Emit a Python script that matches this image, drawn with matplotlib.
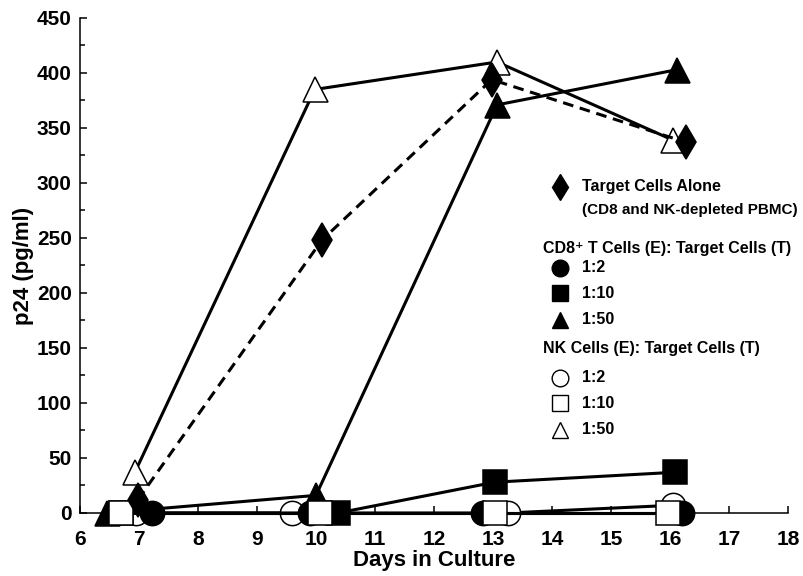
import numpy as np
import matplotlib
matplotlib.use("Agg")
import matplotlib.pyplot as plt

plt.rcParams['font.family'] = ['Liberation Sans', 'DejaVu Sans']
plt.rcParams['font.weight'] = 'bold'

# data (points are shifted a bit sideways in the original)
target_days = [6.98, 10.1, 12.98, 16.27]
target_p24 = [12, 248, 394, 337]

cd8_1_2_days = [7.22, 9.9, 12.83, 16.2]
cd8_1_2_p24 = [0, 0, 0, 0]
cd8_1_10_days = [6.7, 10.37, 13.03, 16.08]
cd8_1_10_p24 = [0, 0, 28, 37]
cd8_1_50_days = [6.45, 10.0, 13.07, 16.12]
cd8_1_50_p24 = [0, 16, 371, 403]

nk_1_2_days = [6.95, 9.6, 13.25, 16.05]
nk_1_2_p24 = [0, 0, 0, 7]
nk_1_10_days = [6.7, 10.07, 13.03, 15.97]
nk_1_10_p24 = [0, 0, 0, 0]
nk_1_50_days = [6.93, 9.98, 13.07, 16.05]
nk_1_50_p24 = [37, 385, 410, 339]

x_ticks = list(range(6, 19))
y_ticks = list(range(0, 451, 50))

fig = plt.figure(figsize=(8.04, 5.76), dpi=100)
ax = fig.add_axes([0.0995, 0.1094, 0.8805, 0.8594])

lw = 2.2
mew = 1.1
ms = 17.5

def series(days, vals, marker, filled, z, ls='-', size=ms):
    ax.plot(days, vals, ls=ls, lw=lw, color='black', marker=marker,
            markersize=size, markerfacecolor='black' if filled else 'white',
            markeredgecolor='black', markeredgewidth=mew, zorder=z,
            clip_on=False, dashes=(3.5, 2.2) if ls == '--' else (None, None))

series(nk_1_2_days, nk_1_2_p24, 'o', False, 3)
series(cd8_1_2_days, cd8_1_2_p24, 'o', True, 4)
series(cd8_1_10_days, cd8_1_10_p24, 's', True, 4.5)
series(cd8_1_50_days, cd8_1_50_p24, '^', True, 5, size=18)
series(nk_1_10_days, nk_1_10_p24, 's', False, 6)
series(nk_1_50_days, nk_1_50_p24, '^', False, 7, size=18)
series(target_days, target_p24, 'd', True, 8, ls='--', size=17)

ax.set_xlim(6, 18)
ax.set_ylim(0, 450)
ax.set_xticks(x_ticks)
ax.set_yticks(y_ticks)
ax.set_yticks(np.arange(25, 450, 50), minor=True)
ax.tick_params(direction='in', length=5, width=1.1, labelsize=15)
ax.tick_params(axis='x', pad=12)
ax.tick_params(axis='y', pad=6)
ax.tick_params(which='minor', direction='in', length=3.5, width=1.1)
for s in ['top', 'right']:
    ax.spines[s].set_visible(False)
for s in ['left', 'bottom']:
    ax.spines[s].set_linewidth(1.1)
for lab in ax.get_xticklabels() + ax.get_yticklabels():
    lab.set_fontweight('bold')

ax.set_xlabel('Days in Culture', fontsize=16, fontweight='bold', labelpad=1)
ax.set_ylabel('p24 (pg/ml)', fontsize=16, fontweight='bold', labelpad=2)

# hand-made legend
fs = 11.5
mx, tx, hx = 0.678, 0.709, 0.654
ax.plot([mx], [0.659], transform=ax.transAxes, marker='d', markersize=13,
        color='black', ls='none', clip_on=False)
ax.text(tx, 0.659, 'Target Cells Alone', transform=ax.transAxes,
        fontsize=fs, fontweight='bold', va='center')
ax.text(tx, 0.612, '(CD8 and NK-depleted PBMC)', transform=ax.transAxes,
        fontsize=11, fontweight='bold', va='center')

ax.text(hx, 0.535, 'CD8\u207a T Cells (E): Target Cells (T)',
        transform=ax.transAxes, fontsize=fs, fontweight='bold', va='center')
ax.text(hx, 0.333, 'NK Cells (E): Target Cells (T)',
        transform=ax.transAxes, fontsize=fs, fontweight='bold', va='center')

ratio_labels = ['1:2', '1:10', '1:50']
keys = [('o', True, 0.495), ('s', True, 0.444), ('^', True, 0.390),
        ('o', False, 0.273), ('s', False, 0.222), ('^', False, 0.168)]
for i, (m, filled, yy) in enumerate(keys):
    ax.plot([mx], [yy], transform=ax.transAxes, marker=m,
            markersize=12 if m != 's' else 11.5, ls='none',
            markerfacecolor='black' if filled else 'white',
            markeredgecolor='black', markeredgewidth=1.0, clip_on=False)
    ax.text(tx, yy, ratio_labels[i % 3], transform=ax.transAxes,
            fontsize=fs, fontweight='bold', va='center')

fig.savefig('out.png', dpi=100)
